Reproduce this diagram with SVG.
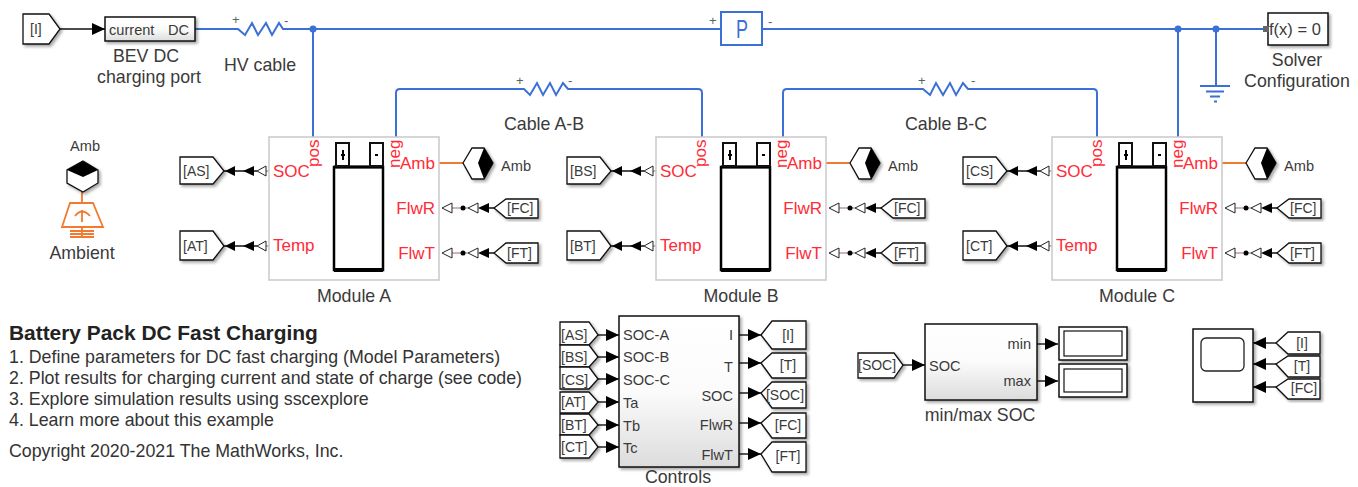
<svg xmlns="http://www.w3.org/2000/svg" width="1358" height="487" viewBox="0 0 1358 487">
<style>
text{font-family:"Liberation Sans",Arial,sans-serif;fill:#3a3a3a}
.l{font-size:17.800px}
.p{font-size:14.600px}
.d{font-size:17.800px;fill:#333}
.t{font-size:14px;fill:#3a3a3a}
.r{font-size:17px;fill:#ff2b37}
.e{text-anchor:end}.m{text-anchor:middle}
.tag{fill:#fff;stroke:#111;stroke-width:1.3;filter:url(#sh)}
.box{stroke:#111;stroke-width:1.5;filter:url(#sh)}
.mod{fill:#fff;stroke:#c9c9c9;stroke-width:1.5}
.w{fill:none;stroke:#3b70d6;stroke-width:2}
.s{fill:none;stroke:#111;stroke-width:1.4}
.sm{fill:none;stroke:#a06a70;stroke-width:1.2}
.o{fill:none;stroke:#f07a30;stroke-width:1.8}
.open{fill:#fff;stroke:#222;stroke-width:1}
.sign{font-size:13px;fill:#4d6a60}
</style>
<defs>
<filter id="sh" x="-15%" y="-15%" width="135%" height="135%"><feDropShadow dx="2" dy="2" stdDeviation="1.5" flood-color="#000" flood-opacity=".35"/></filter>
<linearGradient id="g" x1="0" y1="0" x2="0" y2="1"><stop offset="0" stop-color="#fff"/><stop offset=".5" stop-color="#fbfbfb"/><stop offset="1" stop-color="#dcdcdc"/></linearGradient>
<marker id="a" markerUnits="userSpaceOnUse" markerWidth="13" markerHeight="12" refX="13" refY="6" orient="auto"><path d="M0,0L13,6L0,12Z" fill="#000"/></marker>
</defs>

<g id="connectors">
<path class="s" marker-end="url(#a)" d="M60,29H105"/>
<path class="w" d="M195,29H238L245,35L252,23L258,35L266,23L272,35L279,23L283,29H721M762,29H1266"/>
<path class="w" d="M313,29V137M1178,29V137M1216,29V86"/>
<circle cx="313" cy="29" r="3.5" fill="#3b70d6"/><circle cx="1178" cy="29" r="3.5" fill="#3b70d6"/><circle cx="1216" cy="29" r="3.5" fill="#3b70d6"/>
<path class="w" d="M396,137V93Q396,89 400,89H524L530,95L537,83L543,95L550,83L556,95L563,83L568,89H698Q702,89 702,93V137"/>
<path class="w" d="M783,137V93Q783,89 787,89H923L930,95L936,83L943,95L950,83L956,95L963,83L968,89H1093Q1097,89 1097,93V137"/>
<path class="o" d="M439,163H463M826,163H850M1222,163H1246M82,192V203"/>
<path class="s" d="M224,171H257M224,246H257M611,171H644M611,246H644M1007,171H1040M1007,246H1040"/>
<path class="sm" d="M266,171H269M266,246H269M653,171H656M653,246H656M1049,171H1052M1049,246H1052"/>
<path class="sm" d="M452,208H468M452,253H468M839,208H855M839,253H855M1235,208H1251M1235,253H1251"/>
<path class="s" d="M488,208H494M488,253H494M875,208H881M875,253H881M1271,208H1277M1271,253H1277"/>
<path class="s" marker-end="url(#a)" d="M598,335H619"/>
<path class="s" marker-end="url(#a)" d="M598,357H619"/>
<path class="s" marker-end="url(#a)" d="M598,379H619"/>
<path class="s" marker-end="url(#a)" d="M598,402H619"/>
<path class="s" marker-end="url(#a)" d="M598,425H619"/>
<path class="s" marker-end="url(#a)" d="M598,447H619"/>
<path class="s" marker-end="url(#a)" d="M739,335H761"/>
<path class="s" marker-end="url(#a)" d="M739,363H761"/>
<path class="s" marker-end="url(#a)" d="M739,393H761"/>
<path class="s" marker-end="url(#a)" d="M739,423H761"/>
<path class="s" marker-end="url(#a)" d="M739,454H761"/>
<path class="s" marker-end="url(#a)" d="M903,365H925"/>
<path class="s" marker-end="url(#a)" d="M1037,344H1058"/>
<path class="s" marker-end="url(#a)" d="M1037,381H1058"/>
<path class="s" marker-end="url(#a)" d="M1276,343H1253"/>
<path class="s" marker-end="url(#a)" d="M1276,364H1253"/>
<path class="s" marker-end="url(#a)" d="M1276,387H1253"/>
</g>

<g id="from-I"><polygon class="tag" points="23,14 49,14 60,29 49,44 23,44"/><text class="t" x="30" y="34">[I]</text></g>
<g id="charging-port"><rect class="box" x="105" y="17" width="90" height="24" fill="url(#g)"/><text class="p" x="109" y="35">current</text><text class="p e" x="189" y="35">DC</text><text class="l m" x="146" y="62">BEV DC</text><text class="l m" x="149" y="83">charging port</text></g>
<g id="hv-cable"><text class="sign" x="232" y="24">+</text><text class="sign" x="284" y="25">-</text><text class="l m" x="260" y="71">HV cable</text></g>
<g id="sensor-p"><rect x="721" y="12" width="41" height="33" fill="#fff" stroke="#3b70d6" stroke-width="2"/><text class="m" transform="translate(742,38) scale(.72,1)" style="font-size:25px;fill:#3b70d6">P</text><text class="sign" x="709" y="25">+</text><text class="sign" x="768" y="26">-</text></g>
<g id="cable-ab"><text class="sign" x="516" y="85">+</text><text class="sign" x="568" y="85">-</text><text class="l m" x="544" y="130">Cable A-B</text></g>
<g id="cable-bc"><text class="sign" x="918" y="85">+</text><text class="sign" x="971" y="85">-</text><text class="l m" x="946" y="130">Cable B-C</text></g>
<g id="ground"><path d="M1200,86H1230M1206,91.500H1224M1210,96.500H1220M1214,101.500H1217" fill="none" stroke="#3b70d6" stroke-width="2"/></g>
<g id="solver"><rect class="box" x="1268" y="13" width="60" height="32" fill="#fff"/><rect x="1263" y="26" width="6" height="6" fill="#666"/><text x="1269" y="35" style="font-size:16.500px">f(x) = 0</text><text class="l m" x="1297" y="66">Solver</text><text class="l m" x="1297" y="87">Configuration</text></g>

<g id="ambient"><text class="p m" x="85" y="151">Amb</text>
<polygon points="83,161 98,170 98,183 83,192 67,183 67,170" fill="#fff" stroke="#111" stroke-width="1.300" filter="url(#sh)"/><polygon points="83,161 98,170 83,177 67,170" fill="#000"/>
<path class="o" d="M70,203H93L103,227H62ZM75,216Q82,207 90,216M82,210V222M82,227V237M70,231H94M70,234H94M70,237H94"/><text class="l m" x="82" y="259">Ambient</text></g>

<g id="module-a">
<rect class="mod" x="269" y="137" width="170" height="143"/>
<rect x="334" y="167" width="49" height="103" fill="#fff" stroke="#000" stroke-width="2.500"/><path d="M334,270H383" stroke="#000" stroke-width="4"/><path d="M334,167H383" stroke="#000" stroke-width="3"/>
<rect x="336" y="143" width="13" height="23" fill="#fff" stroke="#111" stroke-width="2"/><rect x="370" y="143" width="13" height="23" fill="#fff" stroke="#111" stroke-width="2"/><path d="M343,150V160M341,155H345M375,155H378" stroke="#000" stroke-width="2"/>
<text class="r" x="273" y="177">SOC</text><text class="r" x="273" y="251">Temp</text>
<text class="r" transform="translate(319,167) rotate(-90)">pos</text><text class="r" transform="translate(400,168) rotate(-90)">neg</text>
<text class="r e" x="435" y="169">Amb</text><text class="r e" x="435" y="214">FlwR</text><text class="r e" x="435" y="259">FlwT</text>
<path class="open" d="M257,171L266,166V176ZM257,246L266,241V251ZM442,208L452,203V213ZM442,253L452,248V258ZM468,208L478,203V213ZM468,253L478,248V258Z"/>
<path d="M225,171L235,166V176ZM243,171L254,166V176ZM225,246L235,241V251ZM243,246L254,241V251ZM478,208L489,203V213ZM478,253L489,248V258Z" fill="#000"/>
<circle cx="463" cy="208" r="2.500"/><circle cx="463" cy="253" r="2.500"/>
<text class="l m" x="354" y="302">Module A</text>
</g>
<g id="tag-as"><polygon class="tag" points="180,157 213,157 224,171 213,184 180,184"/><text class="t" x="183" y="176">[AS]</text></g>
<g id="tag-at"><polygon class="tag" points="180,231 213,231 224,246 213,260 180,260"/><text class="t" x="183" y="251">[AT]</text></g>
<g id="amb-a"><polygon class="tag" points="463,163 472,148 484,148 493,163 484,179 472,179"/><polygon points="478,163 484,148 493,163 484,179" fill="#000"/><text class="p" x="501" y="171">Amb</text></g>
<g id="tag-fc-a"><polygon class="tag" points="494,208 506,199 538,199 538,218 506,218"/><text class="t" x="507" y="213">[FC]</text></g>
<g id="tag-ft-a"><polygon class="tag" points="494,253 506,243 538,243 538,263 506,263"/><text class="t" x="507" y="258">[FT]</text></g>

<g id="module-b" transform="translate(387,0)">
<rect class="mod" x="269" y="137" width="170" height="143"/>
<rect x="334" y="167" width="49" height="103" fill="#fff" stroke="#000" stroke-width="2.500"/><path d="M334,270H383" stroke="#000" stroke-width="4"/><path d="M334,167H383" stroke="#000" stroke-width="3"/>
<rect x="336" y="143" width="13" height="23" fill="#fff" stroke="#111" stroke-width="2"/><rect x="370" y="143" width="13" height="23" fill="#fff" stroke="#111" stroke-width="2"/><path d="M343,150V160M341,155H345M375,155H378" stroke="#000" stroke-width="2"/>
<text class="r" x="273" y="177">SOC</text><text class="r" x="273" y="251">Temp</text>
<text class="r" transform="translate(319,167) rotate(-90)">pos</text><text class="r" transform="translate(400,168) rotate(-90)">neg</text>
<text class="r e" x="435" y="169">Amb</text><text class="r e" x="435" y="214">FlwR</text><text class="r e" x="435" y="259">FlwT</text>
<path class="open" d="M257,171L266,166V176ZM257,246L266,241V251ZM442,208L452,203V213ZM442,253L452,248V258ZM468,208L478,203V213ZM468,253L478,248V258Z"/>
<path d="M225,171L235,166V176ZM243,171L254,166V176ZM225,246L235,241V251ZM243,246L254,241V251ZM478,208L489,203V213ZM478,253L489,248V258Z" fill="#000"/>
<circle cx="463" cy="208" r="2.500"/><circle cx="463" cy="253" r="2.500"/>
<text class="l m" x="354" y="302">Module B</text>
</g>
<g id="tag-bs" transform="translate(387,0)"><polygon class="tag" points="180,157 213,157 224,171 213,184 180,184"/><text class="t" x="183" y="176">[BS]</text></g>
<g id="tag-bt" transform="translate(387,0)"><polygon class="tag" points="180,231 213,231 224,246 213,260 180,260"/><text class="t" x="183" y="251">[BT]</text></g>
<g id="amb-b" transform="translate(387,0)"><polygon class="tag" points="463,163 472,148 484,148 493,163 484,179 472,179"/><polygon points="478,163 484,148 493,163 484,179" fill="#000"/><text class="p" x="501" y="171">Amb</text></g>
<g id="tag-fc-b" transform="translate(387,0)"><polygon class="tag" points="494,208 506,199 538,199 538,218 506,218"/><text class="t" x="507" y="213">[FC]</text></g>
<g id="tag-ft-b" transform="translate(387,0)"><polygon class="tag" points="494,253 506,243 538,243 538,263 506,263"/><text class="t" x="507" y="258">[FT]</text></g>

<g id="module-c" transform="translate(783,0)">
<rect class="mod" x="269" y="137" width="170" height="143"/>
<rect x="334" y="167" width="49" height="103" fill="#fff" stroke="#000" stroke-width="2.500"/><path d="M334,270H383" stroke="#000" stroke-width="4"/><path d="M334,167H383" stroke="#000" stroke-width="3"/>
<rect x="336" y="143" width="13" height="23" fill="#fff" stroke="#111" stroke-width="2"/><rect x="370" y="143" width="13" height="23" fill="#fff" stroke="#111" stroke-width="2"/><path d="M343,150V160M341,155H345M375,155H378" stroke="#000" stroke-width="2"/>
<text class="r" x="273" y="177">SOC</text><text class="r" x="273" y="251">Temp</text>
<text class="r" transform="translate(319,167) rotate(-90)">pos</text><text class="r" transform="translate(400,168) rotate(-90)">neg</text>
<text class="r e" x="435" y="169">Amb</text><text class="r e" x="435" y="214">FlwR</text><text class="r e" x="435" y="259">FlwT</text>
<path class="open" d="M257,171L266,166V176ZM257,246L266,241V251ZM442,208L452,203V213ZM442,253L452,248V258ZM468,208L478,203V213ZM468,253L478,248V258Z"/>
<path d="M225,171L235,166V176ZM243,171L254,166V176ZM225,246L235,241V251ZM243,246L254,241V251ZM478,208L489,203V213ZM478,253L489,248V258Z" fill="#000"/>
<circle cx="463" cy="208" r="2.500"/><circle cx="463" cy="253" r="2.500"/>
<text class="l m" x="354" y="302">Module C</text>
</g>
<g id="tag-cs" transform="translate(783,0)"><polygon class="tag" points="180,157 213,157 224,171 213,184 180,184"/><text class="t" x="183" y="176">[CS]</text></g>
<g id="tag-ct" transform="translate(783,0)"><polygon class="tag" points="180,231 213,231 224,246 213,260 180,260"/><text class="t" x="183" y="251">[CT]</text></g>
<g id="amb-c" transform="translate(783,0)"><polygon class="tag" points="463,163 472,148 484,148 493,163 484,179 472,179"/><polygon points="478,163 484,148 493,163 484,179" fill="#000"/><text class="p" x="501" y="171">Amb</text></g>
<g id="tag-fc-c" transform="translate(783,0)"><polygon class="tag" points="494,208 506,199 538,199 538,218 506,218"/><text class="t" x="507" y="213">[FC]</text></g>
<g id="tag-ft-c" transform="translate(783,0)"><polygon class="tag" points="494,253 506,243 538,243 538,263 506,263"/><text class="t" x="507" y="258">[FT]</text></g>

<g id="description">
<text x="9" y="340" style="font-size:20.900px;font-weight:bold;fill:#222">Battery Pack DC Fast Charging</text>
<text class="d" x="9" y="363">1. Define parameters for DC fast charging (Model Parameters)</text>
<text class="d" x="9" y="384">2. Plot results for charging current and state of charge (see code)</text>
<text class="d" x="9" y="405">3. Explore simulation results using sscexplore</text>
<text class="d" x="9" y="426">4. Learn more about this example</text>
<text class="d" x="9" y="457">Copyright 2020-2021 The MathWorks, Inc.</text>
</g>

<g id="controls"><rect class="box" x="619" y="316" width="120" height="151" fill="url(#g)"/>
<text class="p" x="623" y="340">SOC-A</text><text class="p" x="623" y="362">SOC-B</text><text class="p" x="623" y="385">SOC-C</text><text class="p" x="623" y="408">Ta</text><text class="p" x="623" y="431">Tb</text><text class="p" x="623" y="453">Tc</text>
<text class="p e" x="733" y="340">I</text><text class="p e" x="733" y="372">T</text><text class="p e" x="733" y="401">SOC</text><text class="p e" x="733" y="430">FlwR</text><text class="p e" x="733" y="460">FlwT</text>
<text class="l m" x="678" y="483">Controls</text></g>
<g id="c-as"><polygon class="tag" points="560,322 589,322 598,335 589,345 560,345"/><text class="t" x="561" y="340">[AS]</text></g>
<g id="c-bs"><polygon class="tag" points="560,345 589,345 598,357 589,367 560,367"/><text class="t" x="561" y="362">[BS]</text></g>
<g id="c-cs"><polygon class="tag" points="560,367 589,367 598,379 589,389 560,389"/><text class="t" x="561" y="385">[CS]</text></g>
<g id="c-at"><polygon class="tag" points="560,392 589,392 598,402 589,413 560,413"/><text class="t" x="561" y="407">[AT]</text></g>
<g id="c-bt"><polygon class="tag" points="560,414 589,414 598,425 589,435 560,435"/><text class="t" x="561" y="430">[BT]</text></g>
<g id="c-ct"><polygon class="tag" points="560,435 589,435 598,447 589,458 560,458"/><text class="t" x="561" y="452">[CT]</text></g>
<g id="o-i"><polygon class="tag" points="761,335 772,321 806,321 806,349 772,349"/><text class="t m" x="788" y="340">[I]</text></g>
<g id="o-t"><polygon class="tag" points="761,363 772,353 806,353 806,378 772,378"/><text class="t m" x="788" y="370">[T]</text></g>
<g id="o-soc"><polygon class="tag" points="761,393 772,382 806,382 806,408 772,408"/><text class="t m" x="785" y="400">[SOC]</text></g>
<g id="o-fc"><polygon class="tag" points="761,423 772,413 806,413 806,438 772,438"/><text class="t m" x="788" y="430">[FC]</text></g>
<g id="o-ft"><polygon class="tag" points="761,454 772,442 806,442 806,472 772,472"/><text class="t m" x="788" y="461">[FT]</text></g>

<g id="minmax"><rect class="box" x="925" y="324" width="112" height="76" fill="url(#g)"/><text class="p" x="929" y="371">SOC</text><text class="p e" x="1031" y="349">min</text><text class="p e" x="1031" y="386">max</text><text class="l m" x="980" y="421">min/max SOC</text></g>
<g id="tag-soc"><polygon class="tag" points="858,353 894,353 903,365 894,378 858,378"/><text class="t" x="858" y="370">[SOC]</text></g>
<g id="display-min"><rect class="box" x="1059" y="327" width="68" height="33" fill="#fff"/><rect x="1064" y="331" width="58" height="25" fill="#fff" stroke="#111" stroke-width="1.200"/></g>
<g id="display-max"><rect class="box" x="1059" y="364" width="68" height="33" fill="#fff"/><rect x="1064" y="369" width="58" height="23" fill="#fff" stroke="#111" stroke-width="1.200"/></g>
<g id="scope"><rect class="box" x="1193" y="329" width="60" height="73" fill="#fff"/><rect x="1201" y="338" width="43" height="33" rx="5" fill="#fff" stroke="#222" stroke-width="1.300"/></g>
<g id="s-i"><polygon class="tag" points="1276,343 1288,332 1320,332 1320,354 1288,354"/><text class="t m" x="1302" y="348">[I]</text></g>
<g id="s-t"><polygon class="tag" points="1276,364 1288,356 1320,356 1320,377 1288,377"/><text class="t m" x="1302" y="371">[T]</text></g>
<g id="s-fc"><polygon class="tag" points="1276,387 1288,379 1320,379 1320,399 1288,399"/><text class="t m" x="1304" y="393">[FC]</text></g>
</svg>
